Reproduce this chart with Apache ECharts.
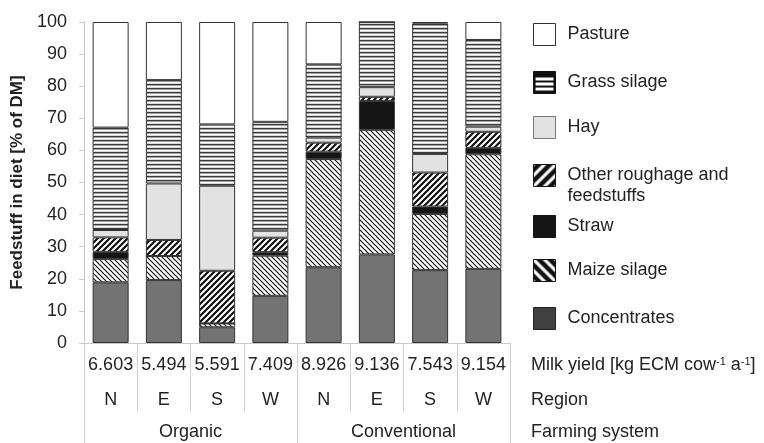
<!DOCTYPE html>
<html>
<head>
<meta charset="utf-8">
<script src="https://cdn.jsdelivr.net/npm/echarts@6/dist/echarts.min.js"></script>
<style>html,body{margin:0;padding:0;background:#fff}#c{width:764px;height:443px}</style>
</head>
<body>
<div id="c"></div>
<script>
// ---- data ----
var milkYield = ['6.603','5.494','5.591','7.409','8.926','9.136','7.543','9.154'];
var regions = ['N','E','S','W','N','E','S','W'];
var farmingSystems = ['Organic','Conventional'];
var yTicks = [0,10,20,30,40,50,60,70,80,90,100];
var concentrates = [18.9, 19.6, 4.9, 14.7, 23.6, 27.6, 22.7, 23.1];
var maizeSilage  = [7.3, 7.5, 1.2, 12.5, 33.7, 38.8, 17.5, 35.7];
var straw        = [2.2, 0, 0, 1.1, 2.3, 9.0, 2.3, 2.0];
var otherRough   = [4.5, 5.0, 16.4, 4.5, 2.8, 1.3, 10.6, 5.0];
var hay          = [2.3, 17.6, 26.5, 2.2, 1.6, 3.0, 5.8, 1.6];
var grassSilage  = [31.9, 32.2, 19.1, 33.9, 22.8, 20.3, 40.6, 27.0];
var pasture      = [32.9, 18.1, 31.9, 31.1, 13.2, 0, 0.5, 5.6];

// ---- patterns ----
function mk(w,h,draw){var c=document.createElement('canvas');c.width=w;c.height=h;var g=c.getContext('2d');draw(g,w,h);return {image:c,repeat:'repeat'};}
function diag(g,s,lw,fwd,bg,fg){
  g.fillStyle=bg;g.fillRect(0,0,s,s);g.strokeStyle=fg;g.lineWidth=lw;g.lineCap='square';
  g.beginPath();
  if(fwd){ g.moveTo(-s,s);g.lineTo(s,-s);g.moveTo(0,2*s);g.lineTo(2*s,0);g.moveTo(-s,2*s);g.lineTo(2*s,-s);}
  else { g.moveTo(-s,0);g.lineTo(s,2*s);g.moveTo(0,-s);g.lineTo(2*s,s);g.moveTo(-s,-s);g.lineTo(2*s,2*s);}
  g.stroke();
}
var grassPat = mk(4,4,function(g){g.fillStyle='#fff';g.fillRect(0,0,4,4);g.fillStyle='#3a3a3a';g.fillRect(0,0,4,1);g.fillStyle='#a0a0a0';g.fillRect(0,1,4,1);g.fillStyle='#d8d8d8';g.fillRect(0,3,4,1);});
var maizePat = mk(5,5,function(g,w){diag(g,w,1.2,false,'#fff','#111');});
var otherPat = mk(6,6,function(g,w){diag(g,w,2.2,true,'#fff','#111');});
var grassLeg = mk(22,22,function(g){g.fillStyle='#111';g.fillRect(0,0,22,22);g.fillStyle='#fff';g.fillRect(2,6,18,3);g.fillRect(2,11,18,3);g.fillRect(2,16,18,3);});
var maizeLeg = mk(11,11,function(g,w){diag(g,w,3.2,false,'#111','#fff');});
var otherLeg = mk(11,11,function(g,w){diag(g,w,3.2,true,'#111','#fff');});

var border = {borderColor:'#333', borderWidth:1};
function st(name,data,color){
  return {name:name,type:'bar',stack:'a',data:data,barWidth:36,
    itemStyle:Object.assign({color:color},border),emphasis:{disabled:true}};
}
var seriesList = [
  st('Concentrates',concentrates,'#737373'),
  st('Maize silage',maizeSilage,maizePat),
  st('Straw',straw,'#151515'),
  st('Other roughage and feedstuffs',otherRough,otherPat),
  st('Hay',hay,'#e2e2e2'),
  st('Grass silage',grassSilage,grassPat),
  st('Pasture',pasture,'#ffffff')
];

var FS = 18;
var legendItems = [
  {name:'Pasture', top:23, color:'#fff', bc:'#333'},
  {name:'Grass silage', top:71, color:grassLeg, bc:'#111'},
  {name:'Hay', top:116, color:'#e2e2e2', bc:'#777'},
  {name:'Other roughage and feedstuffs', top:164, color:otherLeg, bc:'#111', two:true},
  {name:'Straw', top:215, color:'#151515', bc:'#151515'},
  {name:'Maize silage', top:259, color:maizeLeg, bc:'#111'},
  {name:'Concentrates', top:307, color:'#404040', bc:'#222'}
];
var legends = legendItems.map(function(it){
  return {
    left:533, top: it.two ? it.top-20 : it.top, orient:'vertical', padding:0,
    itemWidth:22, itemHeight:22, icon:'rect', selectedMode:false, itemGap:0,
    data:[{name:it.name, itemStyle:{color:it.color,borderColor:it.bc,borderWidth:1}}],
    formatter: it.two ? function(){return '\u00a0\nOther roughage and\nfeedstuffs';} : undefined,
    textStyle: it.two ? {fontFamily:'Liberation Sans',fontSize:FS,color:'#222',lineHeight:21,padding:[0,0,0,7]}
                      : {fontFamily:'Liberation Sans',fontSize:FS,color:'#222',padding:[0,0,0,7]}
  };
});

var font = {fontFamily:'Liberation Sans', fontSize:FS, color:'#222'};
var chart = echarts.init(document.getElementById('c'));
chart.setOption({
  animation:false,
  backgroundColor:'#fff',
  grid:{left:84, right:254, top:22, bottom:100},
  legend: legends,
  xAxis:[
    {type:'category', data:milkYield, position:'bottom',
     axisLine:{show:true,lineStyle:{color:'#c8c8c8'}},
     axisTick:{show:true,length:69,lineStyle:{color:'#d0d0d0'}},
     axisLabel:Object.assign({margin:13,interval:0},font)},
    {type:'category', data:milkYield, position:'bottom',
     axisLine:{show:false}, axisTick:{show:false},
     axisLabel:Object.assign({margin:48,interval:0,formatter:function(v,i){return regions[i];}},font)},
    {type:'category', data:farmingSystems, position:'bottom',
     axisLine:{show:false},
     axisTick:{show:true,length:100,lineStyle:{color:'#d0d0d0'}},
     axisLabel:Object.assign({margin:80,interval:0},font)}
  ],
  yAxis:{type:'value', min:yTicks[0], max:yTicks[yTicks.length-1], interval:10,
    name:'Feedstuff in diet [% of DM]', nameLocation:'middle', nameGap:58,
    nameTextStyle:{fontFamily:'Liberation Sans',fontSize:17,fontWeight:'bold',color:'#222'},
    axisLine:{show:true,lineStyle:{color:'#c8c8c8'}},
    axisTick:{show:true,length:5,lineStyle:{color:'#c8c8c8'}},
    splitLine:{show:false},
    axisLabel:Object.assign({margin:17},font)},
  series: seriesList,
  graphic:[
    {type:'text', left:531, top:356, style:{text:'Milk yield [kg ECM cow{s|-1} a{s|-1}]', font:FS+'px "Liberation Sans"', fill:'#222',
      rich:{s:{fontSize:11, fontFamily:'Liberation Sans', padding:[0,0,7,0], fill:'#222'}}}},
    {type:'text', left:531, top:391, style:{text:'Region', font:FS+'px "Liberation Sans"', fill:'#222'}},
    {type:'text', left:531, top:423, style:{text:'Farming system', font:FS+'px "Liberation Sans"', fill:'#222'}}
  ]
});
</script>
</body>
</html>
